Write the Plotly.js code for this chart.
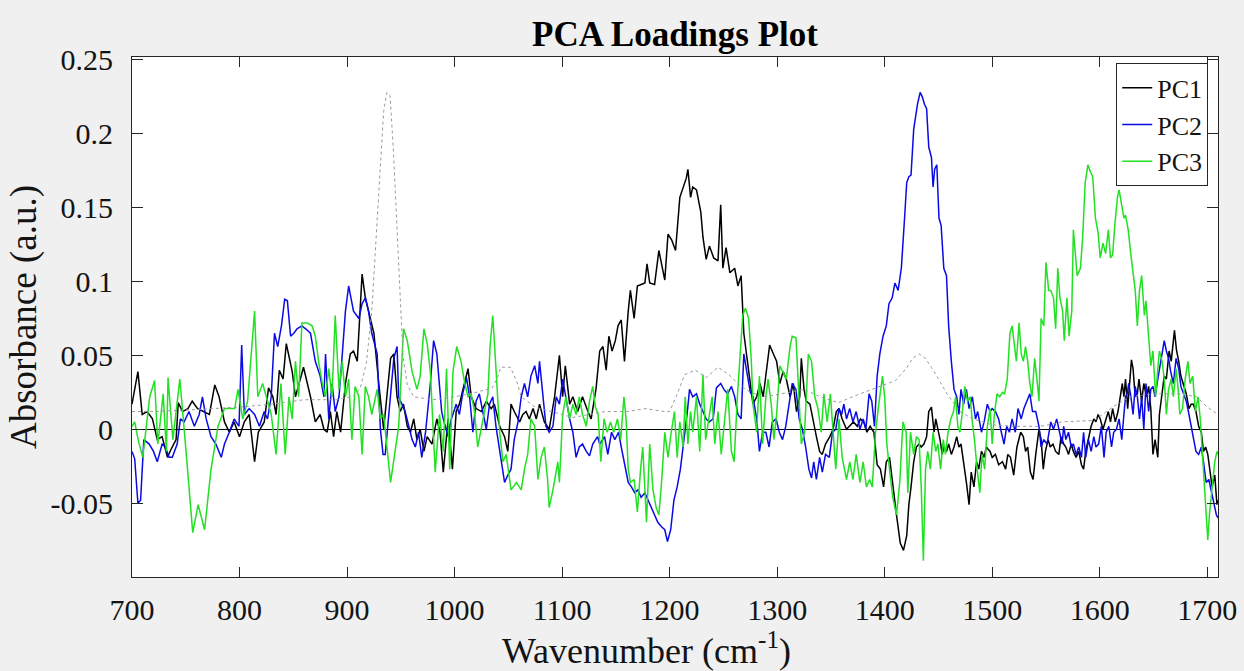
<!DOCTYPE html>
<html>
<head>
<meta charset="utf-8">
<script src="https://cdn.plot.ly/plotly-3.0.1.min.js"></script>
<style>
  html, body { margin: 0; padding: 0; background: #f0f0f0; }
  #chart { width: 1244px; height: 671px; }
</style>
</head>
<body>
<div id="chart"></div>
<script>
// PCA loadings of the spectra, wavenumber in cm^-1

const pc1Wn = [700,705.5,709.5,714,719,723.5,728,733,736,741,743,747,752,756,761,766,772,777,781,786,790.5,795,800,804.5,809,814,817.5,823,827,831,834,837,840.5,843.5,849,852,855.5,859.5,866,870.5,875,878.5,881.5,884.5,887.5,890.5,894,898.5,903,906,909.5,914,917,920,925,929.5,934,937,940.5,943.5,946.5,949.5,952.5,956,959,962,965,968,971.5,974.5,979,983.5,986.5,989.5,994,998,1001.5,1004.5,1009.5,1012.5,1015.5,1020,1025,1029.5,1034,1037,1042,1046.5,1049.5,1052.5,1055.5,1060.5,1063.5,1066.5,1069.5,1073,1076,1079,1083.5,1088,1093,1097.5,1100.5,1103,1107,1110,1114.5,1119,1124,1127,1131.5,1135,1138,1141,1143.5,1146.5,1149.5,1152,1155,1158,1161.5,1163.5,1167,1170,1173.5,1177,1179,1181.5,1186,1190,1195.5,1198.5,1202,1205.5,1209.5,1212.5,1215.5,1217,1219.5,1221.5,1225,1229,1231,1234,1237,1241,1245,1247.5,1249.5,1252.5,1256,1260.5,1263.5,1266.5,1269,1272,1275,1277.5,1281,1284,1287,1290,1293,1296.5,1299.5,1302.5,1305.5,1308.5,1312,1315,1318,1321,1322.5,1325,1327,1330.5,1333.5,1336.5,1339.5,1342,1345,1349,1352,1355,1357.5,1360.5,1364.5,1367.5,1371,1374.5,1377.5,1380.5,1383.5,1386.5,1390,1393,1396,1399,1401.5,1404.5,1407.5,1411,1414.5,1417.5,1420.5,1422.5,1424.5,1427,1429.5,1432,1434,1436.5,1439,1441,1443.5,1446,1447.5,1449,1451.5,1453.5,1455,1457.5,1459.5,1462,1464.5,1467,1469,1471,1473.5,1476,1478.5,1480.5,1483,1485.5,1487.5,1490,1492.5,1494.5,1498,1500,1503,1506,1509.5,1512.5,1514.5,1517,1520,1523,1526.5,1529,1531,1533,1535.5,1538,1540.5,1543.5,1545.5,1547.5,1549.5,1552,1554,1556.5,1559,1562,1564,1566.5,1568.5,1571,1573.5,1575.5,1578,1580.5,1583,1585,1587,1589.5,1592,1594.5,1596.5,1598.5,1600.5,1603,1605.5,1608,1610,1612,1614.5,1617,1619.5,1621,1622.5,1624,1626,1628,1629.5,1631,1633,1635,1636.5,1639,1641,1643.5,1645.5,1647.5,1649.5,1651.5,1654,1655.5,1658,1660,1662,1664.5,1666.5,1668.5,1669.5,1671.5,1673.5,1675.5,1678,1680.5,1683,1685,1687,1689.5,1692,1694.5,1696.5,1698.5,1700.5,1703,1704.5,1707,1709,1710];
const pc1 = [0.017,0.039,0.010,0.012,0.007,-0.007,-0.005,-0.019,-0.014,-0.007,0.018,0.012,0.014,0.019,0.014,0.012,0.010,0.030,0.022,0.005,-0.002,0.005,-0.005,0.005,0.010,-0.022,-0.002,0.005,0.028,0.022,0.010,0.040,0.034,0.058,0.039,0.022,0.031,0.042,0.022,0.005,0.010,0.000,-0.002,0.012,-0.005,0.012,-0.002,0.031,0.051,0.053,0.046,0.105,0.089,0.080,0.065,0.031,0.000,0.022,0.048,0.051,0.022,0.012,0.017,0.002,-0.002,0.007,-0.007,0.000,-0.015,-0.005,-0.010,0.007,-0.002,-0.029,0.007,-0.027,0.012,0.017,0.031,0.041,0.022,0.014,0.012,0.019,0.014,0.017,0.002,-0.005,-0.015,0.017,0.012,0.005,0.010,0.012,0.007,0.014,0.007,0.017,0.005,0.000,0.022,0.050,0.022,0.043,0.017,0.022,0.012,0.022,0.012,0.007,0.027,0.053,0.056,0.040,0.063,0.053,0.060,0.070,0.074,0.046,0.080,0.094,0.075,0.097,0.098,0.099,0.112,0.099,0.098,0.121,0.101,0.132,0.128,0.121,0.157,0.164,0.170,0.176,0.157,0.164,0.162,0.147,0.130,0.115,0.124,0.116,0.114,0.152,0.109,0.123,0.106,0.109,0.097,0.104,0.065,0.048,0.030,0.017,0.022,0.031,0.022,0.041,0.057,0.051,0.046,0.031,0.039,0.034,0.022,0.031,0.012,0.022,0.048,0.027,0.019,0.017,0.005,-0.005,-0.015,-0.017,-0.010,-0.005,0.000,0.012,0.014,0.007,0.000,0.002,0.005,0.002,0.007,0.005,-0.002,0.002,-0.002,-0.024,-0.027,-0.039,-0.022,-0.019,-0.039,-0.058,-0.077,-0.082,-0.072,-0.051,-0.039,-0.022,-0.012,-0.010,-0.012,-0.010,-0.005,0.012,0.015,-0.002,0.007,0.002,-0.007,-0.017,-0.012,-0.015,-0.010,-0.017,-0.012,-0.005,-0.012,-0.010,-0.022,-0.036,-0.051,-0.029,-0.039,-0.022,-0.027,-0.015,-0.019,-0.012,-0.015,-0.019,-0.017,-0.024,-0.022,-0.027,-0.017,-0.019,-0.031,-0.012,-0.002,-0.005,-0.015,-0.012,-0.029,-0.034,-0.017,0.000,-0.007,-0.027,-0.015,-0.007,-0.012,-0.010,-0.015,-0.017,-0.005,-0.010,-0.012,-0.017,-0.010,-0.015,-0.019,-0.015,-0.024,-0.027,-0.015,-0.007,0.002,0.007,0.005,0.010,0.007,0.000,0.007,0.012,0.005,0.014,0.005,0.012,0.024,0.031,0.022,0.034,0.014,0.036,0.047,0.041,0.022,0.024,0.034,0.019,0.031,0.022,0.029,0.014,-0.017,-0.007,-0.019,0.010,0.027,0.036,0.034,0.053,0.046,0.060,0.067,0.053,0.046,0.036,0.029,0.024,0.014,0.017,0.017,0.012,0.002,-0.002,-0.015,-0.012,-0.017,-0.031,-0.039,-0.031,-0.051,-0.048];

const pc2Wn = [700,702.5,705.5,708,711,716,720,723.5,728,731,734.5,737.5,742,745,748.5,753,758,762.5,765.5,769,773.5,778,783,786,790.5,795,799.5,802,804.5,809,814,818.5,823,826,829.5,832.5,835.5,839,842,844.5,847.5,850.5,853.5,858,861.5,866,870.5,875,878.5,880,883,886,889,892.5,895.5,898.5,901.5,906,911,914,917,920,923,928,931,933.5,935.5,940.5,943.5,946.5,948,951,954,957.5,960.5,963.5,966.5,969.5,973,977.5,980.5,983.5,988,989.5,994,997,1001.5,1004.5,1007.5,1011,1014,1017,1020,1023,1026.5,1029.5,1032.5,1035.5,1038.5,1042,1046.5,1049.5,1052.5,1055.5,1059,1062,1065,1068,1071,1074.5,1077.5,1079,1082,1085,1088,1091.5,1094.5,1097.5,1100.5,1103.5,1107,1110,1113,1116,1119,1122.5,1125.5,1128.5,1133,1135,1139.5,1142.5,1146,1149,1152.5,1155,1158,1161.5,1164.5,1167.5,1170.5,1173.5,1177,1180,1183,1186,1189,1192.5,1195.5,1198,1201,1204,1207,1210,1213.5,1216.5,1218.5,1221.5,1225,1228,1231,1234,1237,1240.5,1243.5,1247.5,1250.5,1254,1257.5,1260.5,1263.5,1266.5,1269,1272,1275,1277.5,1281,1283.5,1286.5,1289.5,1292.5,1295.5,1299,1302,1305,1308,1311,1314,1317.5,1320.5,1323.5,1326.5,1329.5,1332,1334,1336.5,1339.5,1342,1345,1348.5,1351.5,1354.5,1357.5,1360,1362,1364.5,1367.5,1370.5,1373.5,1377,1380,1382.5,1385.5,1388,1390.5,1393,1395.5,1398.5,1401.5,1404,1407,1409.5,1412.5,1415.5,1418.5,1420.5,1422.5,1424.5,1427,1430.5,1433,1435,1437,1439,1441,1443.5,1445,1446.5,1448.5,1450.5,1452.5,1455,1457.5,1459.5,1462,1464.5,1467,1469,1471,1473.5,1476,1478.5,1481.5,1484.5,1486.5,1490,1492.5,1495.5,1498,1500,1503,1506,1508.5,1511,1513.5,1516,1518.5,1521.5,1524,1527,1529.5,1532.5,1535,1537.5,1540.5,1543.5,1545.5,1548,1551,1554.5,1557,1560,1563,1565,1566.5,1568.5,1571,1573.5,1575.5,1578,1580.5,1583,1585,1587,1589.5,1592,1594.5,1596.5,1599,1601.5,1604,1606,1608.5,1611,1613,1615.5,1618,1620.5,1622.5,1624,1625.5,1627,1629,1631,1633,1635,1637,1639,1641,1643,1645.5,1647.5,1649.5,1651.5,1654,1655.5,1658,1660,1662,1664,1666,1668.5,1671,1673.5,1675.5,1678,1680.5,1683,1685,1687,1689.5,1692,1694.5,1696.5,1699,1701.5,1703.5,1706,1708.5,1710];
const pc2 = [-0.015,-0.020,-0.050,-0.048,-0.007,-0.010,-0.015,-0.022,-0.010,-0.012,-0.019,-0.019,-0.010,0.007,0.005,0.012,0.002,0.010,0.022,0.007,-0.005,-0.010,-0.019,-0.010,-0.002,0.007,0.002,0.057,0.010,0.014,0.010,0.002,0.012,0.007,0.022,0.065,0.056,0.070,0.088,0.087,0.063,0.065,0.068,0.070,0.068,0.065,0.046,0.036,0.022,0.051,0.007,0.031,0.012,0.022,0.050,0.080,0.097,0.080,0.075,0.085,0.089,0.080,0.065,0.051,0.000,-0.017,-0.017,0.022,0.048,0.056,0.022,0.017,0.012,0.002,-0.007,-0.012,-0.002,-0.019,-0.002,0.031,0.060,0.051,0.012,0.007,-0.005,0.007,0.017,0.010,0.024,0.035,0.022,-0.002,0.019,0.024,0.012,0.000,0.017,0.022,0.002,-0.015,-0.036,-0.031,-0.027,-0.007,0.005,0.022,0.031,0.022,0.036,0.043,0.031,0.046,0.022,0.002,-0.002,0.002,0.022,0.017,0.034,0.022,0.007,-0.002,-0.019,-0.012,-0.010,-0.015,-0.018,-0.010,-0.005,-0.010,-0.005,-0.017,-0.002,-0.007,-0.002,-0.012,-0.022,-0.036,-0.039,-0.043,-0.041,-0.046,-0.043,-0.048,-0.053,-0.058,-0.063,-0.066,-0.068,-0.076,-0.068,-0.048,-0.039,-0.027,-0.007,0.012,0.027,0.022,0.024,0.017,0.012,0.007,0.005,0.007,0.028,0.031,0.027,0.024,0.029,0.022,0.010,0.007,0.051,0.039,0.025,0.022,0.007,-0.015,-0.002,-0.002,-0.012,0.005,0.007,-0.002,-0.007,0.002,0.017,0.031,0.027,0.007,0.000,-0.012,-0.027,-0.033,-0.022,-0.034,-0.019,-0.029,-0.017,-0.019,-0.002,0.000,0.014,0.010,0.017,0.007,0.014,0.005,0.012,0.000,0.007,0.000,0.024,0.019,0.002,0.036,0.051,0.063,0.070,0.085,0.089,0.099,0.094,0.109,0.143,0.167,0.171,0.172,0.203,0.220,0.228,0.225,0.220,0.217,0.191,0.184,0.164,0.176,0.179,0.143,0.138,0.109,0.104,0.070,0.046,0.027,0.022,0.010,0.027,0.017,0.027,0.014,0.022,0.007,0.012,-0.002,0.005,0.017,0.012,0.014,0.012,0.007,-0.002,-0.010,0.002,-0.002,0.007,-0.002,0.014,0.007,0.014,0.019,0.024,0.012,0.012,0.002,-0.012,-0.007,-0.010,0.005,0.000,0.007,-0.002,-0.010,0.002,-0.007,-0.002,-0.012,-0.010,-0.017,-0.012,-0.019,-0.002,-0.019,-0.007,-0.015,-0.005,-0.012,-0.010,0.002,-0.019,-0.002,0.002,-0.012,-0.002,0.000,0.007,-0.007,0.010,0.022,0.024,0.031,0.022,0.010,0.029,0.022,0.007,0.022,0.000,0.031,0.012,0.027,0.029,0.022,0.034,0.041,0.053,0.060,0.053,0.048,0.039,0.031,0.048,0.041,0.029,0.024,0.019,0.010,0.002,-0.005,-0.015,-0.017,-0.012,-0.022,-0.036,-0.034,-0.041,-0.048,-0.058,-0.060];

const pc3Wn = [700,702.5,706,710,716.5,721,724,729,732,733.5,738,744.5,750.5,756.5,761.5,767.5,773.5,780,786,795.5,798.5,803,807.5,814,817,821.5,829.5,834,838.5,842.5,846,849,852,855,858,863,867.5,870.5,873.5,877,880,883,886,889,892.5,895.5,898.5,901.5,904.5,907.5,911,914,917,920,923,928,931,934,940.5,945,948,952.5,956,960.5,965,968,971.5,974.5,977.5,982,986,989.5,992.5,995.5,998.5,1002,1006,1009.5,1012.5,1015.5,1018.5,1021.5,1025,1028,1031,1033,1035.5,1038.5,1042,1045,1048,1052.5,1057.5,1062,1065,1068,1071,1074.5,1077.5,1080.5,1083.5,1086.5,1088,1091.5,1093,1096,1097.5,1100.5,1103.5,1107,1110,1113,1116,1119,1122.5,1125.5,1128.5,1131,1133.5,1136,1139,1142,1145,1148,1151.5,1154.5,1157.5,1159.5,1161.5,1163.5,1167,1170,1173,1175,1178.5,1181.5,1184.5,1187.5,1190,1192.5,1195.5,1198.5,1201.5,1204.5,1207,1209.5,1212.5,1214.5,1217,1219.5,1221.5,1225,1228,1231,1233.5,1236.5,1239.5,1242,1245,1248,1251,1254,1257.5,1260,1263,1265,1268,1270.5,1273.5,1276,1277.5,1281,1283.5,1286.5,1289.5,1291.5,1294.5,1297,1299.5,1302.5,1305.5,1308.5,1312,1314,1317.5,1320.5,1322.5,1325.5,1329,1332,1335,1338,1341,1343.5,1346.5,1349.5,1352,1354.5,1357.5,1360.5,1364.5,1367.5,1370.5,1373.5,1377,1380,1383,1386,1388.5,1391.5,1394.5,1398,1400,1402,1404.5,1407.5,1411,1414,1417,1420,1421.5,1424,1427,1429.5,1432,1434,1436,1438,1440,1442.5,1445,1447.5,1449.5,1452,1454.5,1456.5,1459,1461.5,1464,1466,1468,1470,1472,1474.5,1477,1479.5,1481.5,1483.5,1486,1488.5,1490.5,1493,1495.5,1498,1500,1502,1504.5,1507,1509.5,1511.5,1514,1516.5,1518.5,1521,1522.5,1525,1527,1529,1531,1533,1535,1537,1539.5,1542,1543.5,1545.5,1548,1550,1552.5,1554.5,1557,1559,1561,1563,1565.5,1567,1569.5,1571.5,1574,1575.5,1579,1582,1584,1586.5,1589,1591.5,1593.5,1596,1598.5,1600.5,1603,1605.5,1608,1610,1612,1614,1616.5,1618,1620.5,1622.5,1624,1626.5,1629,1631,1633,1635,1637,1639,1641.5,1643,1645.5,1647.5,1649.5,1652,1654,1655.5,1658,1660,1662,1664,1666.5,1668.5,1671,1673,1674.5,1677,1679.5,1682,1684,1686.5,1689,1691.5,1693.5,1695.5,1697.5,1699,1700.5,1702,1704.5,1707,1709,1710];
const pc3 = [0.002,0.005,-0.008,-0.019,0.022,0.033,-0.010,0.024,-0.015,0.035,-0.007,0.034,-0.017,-0.070,-0.051,-0.068,-0.027,0.002,0.014,0.014,0.027,0.007,0.019,0.080,0.022,0.031,0.010,-0.017,0.031,-0.017,0.022,0.007,0.046,0.022,0.072,0.072,0.070,0.063,0.046,0.031,0.022,0.041,0.022,0.077,0.027,0.046,0.022,0.034,-0.007,0.029,0.022,-0.017,0.029,0.022,0.010,0.027,0.007,0.010,-0.036,-0.015,0.002,0.068,0.060,0.039,0.027,0.036,0.068,0.058,0.039,-0.029,0.010,-0.015,0.041,-0.027,0.039,0.056,0.046,0.031,0.022,0.024,0.012,-0.012,0.002,0.014,0.024,0.056,0.077,0.041,-0.002,-0.022,-0.017,-0.041,-0.036,-0.041,-0.027,-0.017,0.007,0.002,-0.034,-0.019,-0.012,-0.034,-0.053,-0.041,-0.034,-0.022,-0.036,0.010,0.022,0.007,0.017,0.010,0.022,0.010,0.002,0.019,0.029,0.015,0.010,-0.022,0.007,-0.002,0.005,-0.002,0.007,-0.007,0.022,0.007,-0.027,-0.036,-0.034,-0.056,-0.027,-0.012,-0.063,-0.010,-0.041,-0.053,-0.058,-0.036,-0.002,-0.019,-0.002,0.012,-0.019,0.005,-0.012,0.022,-0.010,0.012,-0.002,0.022,-0.015,0.037,-0.007,0.007,0.022,-0.010,0.012,-0.017,0.007,0.027,-0.015,-0.022,0.022,0.043,0.077,0.082,0.075,0.046,0.017,-0.002,0.036,-0.010,0.022,0.034,0.017,-0.007,0.010,0.043,0.039,0.034,0.056,0.063,0.062,0.022,-0.010,-0.002,0.051,0.046,0.022,0.014,-0.002,0.024,0.005,0.024,-0.002,-0.027,0.007,-0.019,-0.034,-0.022,-0.034,-0.017,-0.036,-0.022,-0.039,-0.034,-0.039,-0.002,0.017,0.036,0.022,-0.010,-0.027,-0.046,-0.058,-0.036,0.005,-0.002,-0.043,-0.002,-0.017,-0.005,-0.007,-0.039,-0.089,-0.027,-0.015,-0.027,-0.002,-0.015,-0.010,-0.027,-0.007,-0.017,-0.002,0.007,0.012,0.022,0.002,-0.002,0.010,0.029,0.019,0.022,0.005,-0.007,-0.027,-0.043,-0.017,-0.027,0.002,0.014,-0.010,0.010,0.024,0.022,0.025,0.024,0.034,0.065,0.070,0.053,0.046,0.072,0.051,0.046,0.056,0.046,0.031,0.022,0.048,0.031,0.019,0.075,0.070,0.113,0.094,0.094,0.089,0.068,0.109,0.089,0.080,0.060,0.089,0.063,0.080,0.135,0.104,0.109,0.128,0.167,0.179,0.174,0.171,0.143,0.133,0.116,0.126,0.119,0.135,0.116,0.118,0.138,0.157,0.162,0.152,0.143,0.145,0.135,0.118,0.106,0.094,0.070,0.094,0.104,0.077,0.087,0.063,0.043,0.053,0.022,0.041,0.053,0.046,0.034,0.010,0.027,0.034,0.022,0.041,0.027,0.010,0.014,0.034,0.046,0.031,0.036,0.012,0.022,0.007,-0.015,-0.039,-0.060,-0.075,-0.058,-0.041,-0.022,-0.015,-0.017];

// mean spectrum, dotted
const meanWn = [700,720,750,780,800,830,860,890,905,912,918,923,927,931,934,937,940,943,946,949,952,956,962,980,1000,1020,1035,1040,1043,1052,1058,1062,1075,1090,1110,1125,1140,1160,1178,1195,1200,1206,1214,1224,1234,1245,1255,1265,1275,1290,1310,1325,1340,1357,1370,1388,1400,1410,1420,1426,1432,1438,1446,1458,1470,1482,1500,1520,1545,1565,1595,1612,1628,1650,1675,1690,1700,1710];
const meanSpec = [0.012,0.012,0.013,0.014,0.015,0.017,0.020,0.020,0.022,0.027,0.045,0.080,0.130,0.180,0.215,0.228,0.226,0.190,0.140,0.090,0.050,0.030,0.022,0.020,0.022,0.025,0.028,0.035,0.042,0.042,0.032,0.022,0.015,0.012,0.008,0.010,0.012,0.012,0.014,0.012,0.012,0.022,0.037,0.040,0.035,0.042,0.037,0.030,0.025,0.022,0.025,0.027,0.022,0.018,0.022,0.027,0.030,0.033,0.041,0.048,0.051,0.048,0.039,0.024,0.012,0.007,0.003,0.002,0.002,0.005,0.006,0.015,0.022,0.024,0.024,0.022,0.015,0.010];

const xTickVals = [700,800,900,1000,1100,1200,1300,1400,1500,1600,1700];
const xTickText = ['700','800','900','1000','1100','1200','1300','1400','1500','1600','1700'];
const yTickVals = [-0.05,0,0.05,0.1,0.15,0.2,0.25];
const yTickText = ['-0.05','0','0.05','0.1','0.15','0.2','0.25'];

const seriesNames = ['PC1','PC2','PC3'];
const seriesColors = ['#000000','#0a0ae6','#22e022'];

const serif = "'Liberation Serif', 'Times New Roman', serif";
const axisInk = '#262626';
const textInk = '#141414';

const traces = [
  {x: pc1Wn, y: pc1, name: seriesNames[0], type: 'scatter', mode: 'lines',
   line: {color: seriesColors[0], width: 1.5}},
  {x: pc2Wn, y: pc2, name: seriesNames[1], type: 'scatter', mode: 'lines',
   line: {color: seriesColors[1], width: 1.5}},
  {x: pc3Wn, y: pc3, name: seriesNames[2], type: 'scatter', mode: 'lines',
   line: {color: seriesColors[2], width: 1.5}},
  {x: meanWn, y: meanSpec, name: 'mean', type: 'scatter', mode: 'lines',
   showlegend: false, line: {color: '#9a9a9a', width: 1, dash: 'dot'}}
];

const axisCommon = {
  showline: true, linecolor: axisInk, linewidth: 1, mirror: 'ticks',
  ticks: 'inside', tickcolor: axisInk, tickwidth: 1,
  showgrid: false, automargin: false,
  tickfont: {family: serif, size: 30, color: textInk}
};

const layout = {
  width: 1244, height: 671,
  paper_bgcolor: '#f0f0f0', plot_bgcolor: '#ffffff',
  margin: {l: 132, r: 26, t: 57, b: 94},
  font: {family: serif, color: textInk},
  showlegend: true,
  title: {
    text: '<b>PCA Loadings Plot</b>',
    font: {family: serif, size: 35, color: '#000'},
    xref: 'paper', x: 0.5, xanchor: 'center',
    yref: 'container', y: 0.950, yanchor: 'middle'
  },
  xaxis: Object.assign({}, axisCommon, {
    range: [700, 1710], tickvals: xTickVals, ticktext: xTickText,
    ticklen: 10, ticklabelstandoff: 6, zeroline: false
  }),
  yaxis: Object.assign({}, axisCommon, {
    range: [-0.1, 0.252], tickvals: yTickVals, ticktext: yTickText,
    ticklen: 11, ticklabelstandoff: 12,
    zeroline: true, zerolinecolor: '#000000', zerolinewidth: 1.5,
    title: {text: 'Absorbance (a.u.)', font: {family: serif, size: 37, color: textInk}, standoff: 2}
  }),
  // x-axis caption sits slightly left of the plot centre
  annotations: [{
    text: 'Wavenumber (cm<sup>-1</sup>)',
    xref: 'paper', x: 0.474, xanchor: 'center',
    yref: 'paper', y: -0.138, yanchor: 'middle',
    showarrow: false,
    font: {family: serif, size: 36, color: textInk}
  }],
  legend: {
    x: 0.991, xanchor: 'right', y: 0.988, yanchor: 'top',
    bgcolor: '#ffffff', bordercolor: axisInk, borderwidth: 1,
    font: {family: serif, size: 26, color: textInk},
    tracegroupgap: 0, itemwidth: 30
  }
};

Plotly.newPlot('chart', traces, layout, {displayModeBar: false, staticPlot: true});
</script>
</body>
</html>
